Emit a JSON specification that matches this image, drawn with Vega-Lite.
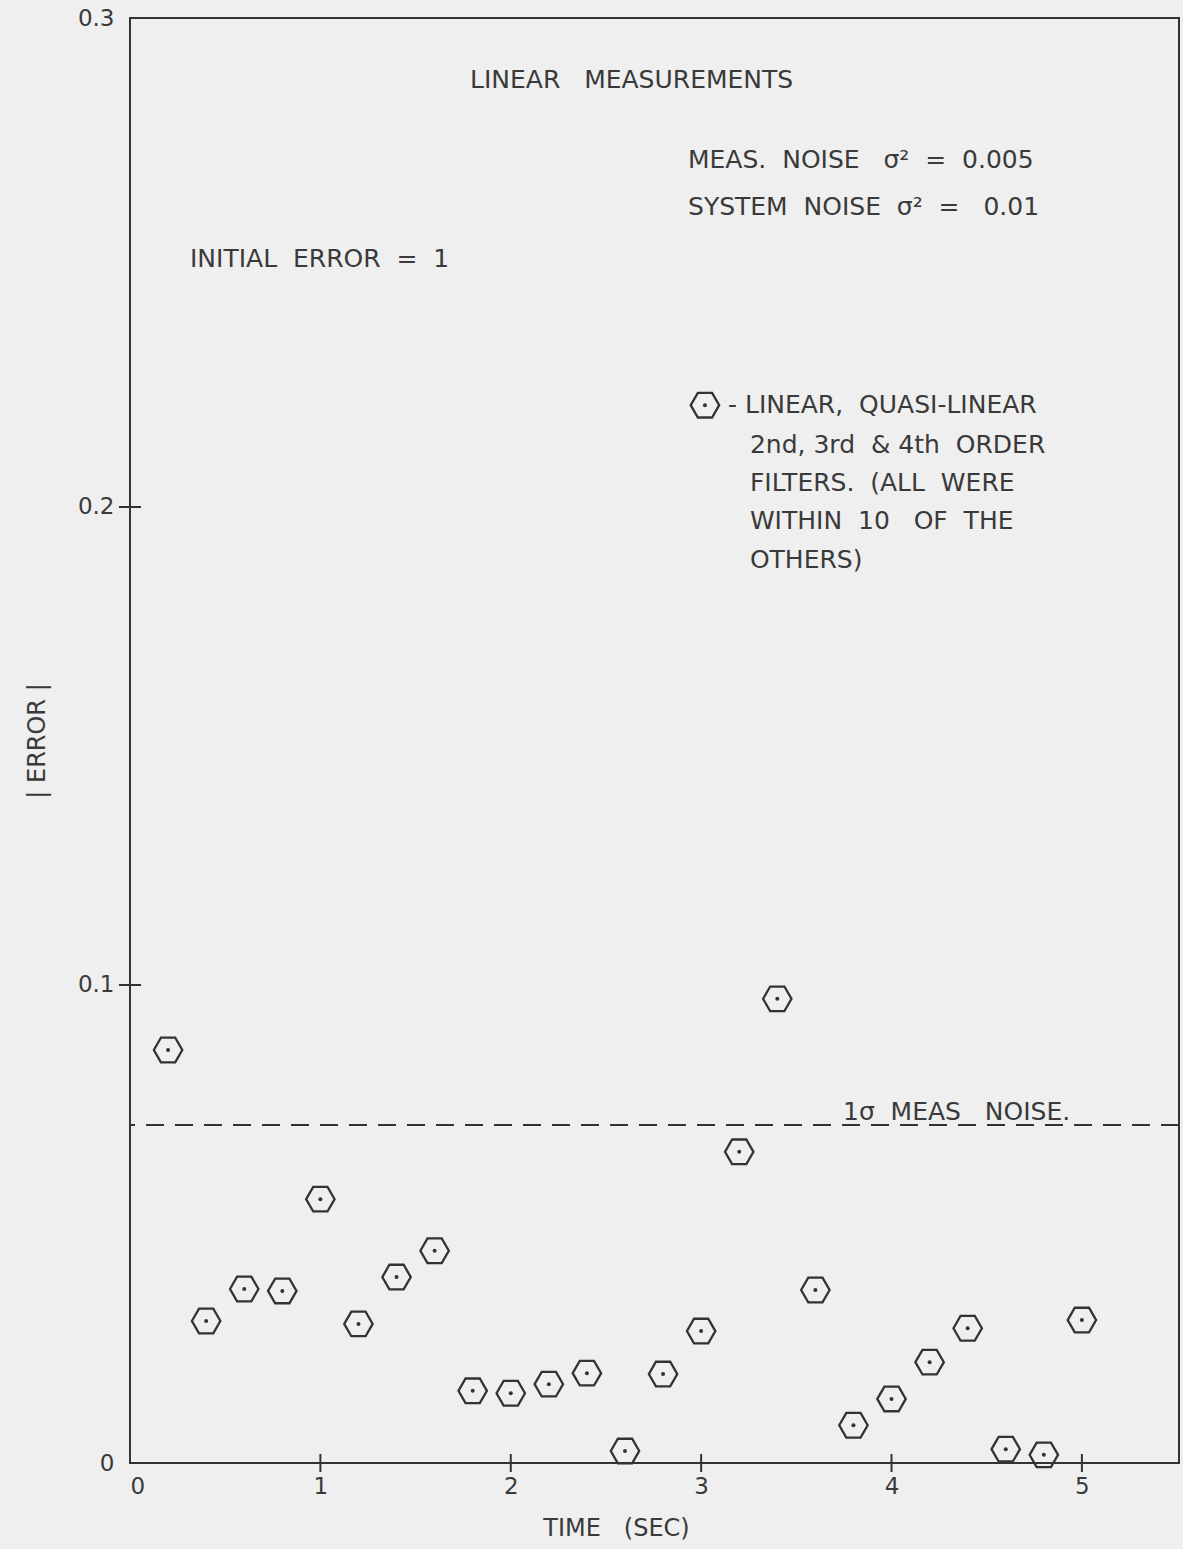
{
  "$schema": "https://vega.github.io/schema/vega-lite/v6.json",
  "width": 1049,
  "height": 1445,
  "autosize": {"type": "none"},
  "padding": {"left": 130, "top": 18, "right": 4, "bottom": 86},
  "background": "#efefef",
  "config": {
    "font": "DejaVu Sans",
    "view": {"stroke": "#333333", "strokeWidth": 2},
    "axis": {"labelColor": "#3a3a3a", "titleColor": "#3a3a3a", "labelFont": "DejaVu Sans", "titleFont": "DejaVu Sans", "titleFontWeight": "normal", "grid": false, "ticks": false, "domain": false}
  },
  "datasets": {
    "errors": [
      {"t": 0.2, "err": 0.0864},
      {"t": 0.4, "err": 0.0297},
      {"t": 0.6, "err": 0.0364},
      {"t": 0.8, "err": 0.0360},
      {"t": 1.0, "err": 0.0552},
      {"t": 1.2, "err": 0.0291},
      {"t": 1.4, "err": 0.0389},
      {"t": 1.6, "err": 0.0444},
      {"t": 1.8, "err": 0.0151},
      {"t": 2.0, "err": 0.0146},
      {"t": 2.2, "err": 0.0165},
      {"t": 2.4, "err": 0.0188},
      {"t": 2.6, "err": 0.0025},
      {"t": 2.8, "err": 0.0186},
      {"t": 3.0, "err": 0.0276},
      {"t": 3.2, "err": 0.0651},
      {"t": 3.4, "err": 0.0971},
      {"t": 3.6, "err": 0.0362},
      {"t": 3.8, "err": 0.0079},
      {"t": 4.0, "err": 0.0134},
      {"t": 4.2, "err": 0.0211},
      {"t": 4.4, "err": 0.0282},
      {"t": 4.6, "err": 0.0029},
      {"t": 4.8, "err": 0.0017},
      {"t": 5.0, "err": 0.0299}
    ],
    "key": [{"t": 3.02, "err": 0.2213}],
    "notes": [
      {"t": 1.786, "err": 0.2893, "label": "LINEAR\u00a0\u00a0\u00a0MEASUREMENTS"},
      {"t": 2.931, "err": 0.2726, "label": "MEAS.\u00a0 NOISE\u00a0\u00a0 σ²\u00a0 =\u00a0 0.005"},
      {"t": 2.931, "err": 0.2628, "label": "SYSTEM\u00a0 NOISE\u00a0 σ²\u00a0 =\u00a0\u00a0 0.01"},
      {"t": 0.315, "err": 0.2518, "label": "INITIAL\u00a0 ERROR\u00a0 =\u00a0 1"},
      {"t": 3.141, "err": 0.2213, "label": "- LINEAR,\u00a0 QUASI-LINEAR"},
      {"t": 3.256, "err": 0.2130, "label": "2nd, 3rd\u00a0 & 4th\u00a0 ORDER"},
      {"t": 3.256, "err": 0.2050, "label": "FILTERS.\u00a0 (ALL\u00a0 WERE"},
      {"t": 3.256, "err": 0.1971, "label": "WITHIN\u00a0 10\u00a0\u00a0 OF\u00a0 THE"},
      {"t": 3.256, "err": 0.1889, "label": "OTHERS)"},
      {"t": 3.745, "err": 0.0734, "label": "1σ\u00a0 MEAS\u00a0\u00a0 NOISE."}
    ],
    "xticks": [{"t": 1}, {"t": 2}, {"t": 3}, {"t": 4}, {"t": 5}],
    "yticks": [{"err": 0.1}, {"err": 0.2}]
  },
  "layer": [
    {
      "data": {"values": [{"noise": 0.0707}]},
      "mark": {"type": "rule", "stroke": "#333333", "strokeWidth": 2, "strokeDash": [18, 11]},
      "encoding": {
        "y": {"field": "noise", "type": "quantitative", "scale": {"domain": [0, 0.3023], "nice": false, "zero": false},
          "axis": {"values": [0, 0.1, 0.2, 0.3023], "labelExpr": "datum.value > 0.25 ? '0.3' : datum.value == 0 ? '0' : format(datum.value, '.1f')", "labelFontSize": 23, "labelPadding": 16, "title": "|\u00a0ERROR\u00a0|", "titleFontSize": 24, "titlePadding": 28}}
      }
    },
    {
      "data": {"name": "errors"},
      "mark": {"type": "point", "shape": "M-1,0L-0.5,-0.866L0.5,-0.866L1,0L0.5,0.866L-0.5,0.866Z", "filled": false, "stroke": "#333333", "strokeWidth": 2.3, "size": 810, "opacity": 1},
      "encoding": {
        "x": {"field": "t", "type": "quantitative", "scale": {"domain": [0, 5.51], "nice": false, "zero": false},
          "axis": {"values": [0, 1, 2, 3, 4, 5], "format": "d", "labelFontSize": 23, "labelPadding": 12, "title": "TIME\u00a0\u00a0 (SEC)", "titleFontSize": 24, "titlePadding": 18, "titleX": 486}},
        "y": {"field": "err", "type": "quantitative"}
      }
    },
    {
      "data": {"name": "errors"},
      "mark": {"type": "point", "shape": "circle", "filled": true, "color": "#333333", "size": 16, "opacity": 1},
      "encoding": {
        "x": {"field": "t", "type": "quantitative"},
        "y": {"field": "err", "type": "quantitative"}
      }
    },
    {
      "data": {"name": "key"},
      "mark": {"type": "point", "shape": "M-1,0L-0.5,-0.866L0.5,-0.866L1,0L0.5,0.866L-0.5,0.866Z", "filled": false, "stroke": "#333333", "strokeWidth": 2.3, "size": 810, "opacity": 1},
      "encoding": {
        "x": {"field": "t", "type": "quantitative"},
        "y": {"field": "err", "type": "quantitative"}
      }
    },
    {
      "data": {"name": "key"},
      "mark": {"type": "point", "shape": "circle", "filled": true, "color": "#333333", "size": 16, "opacity": 1},
      "encoding": {
        "x": {"field": "t", "type": "quantitative"},
        "y": {"field": "err", "type": "quantitative"}
      }
    },
    {
      "data": {"name": "notes"},
      "mark": {"type": "text", "align": "left", "baseline": "middle", "fontSize": 25, "color": "#3a3a3a"},
      "encoding": {
        "x": {"field": "t", "type": "quantitative"},
        "y": {"field": "err", "type": "quantitative"},
        "text": {"field": "label"}
      }
    },
    {
      "data": {"name": "xticks"},
      "mark": {"type": "tick", "orient": "vertical", "size": 18, "thickness": 2, "color": "#333333", "opacity": 1},
      "encoding": {
        "x": {"field": "t", "type": "quantitative"},
        "y": {"datum": 0, "type": "quantitative"}
      }
    },
    {
      "data": {"name": "yticks"},
      "mark": {"type": "tick", "orient": "horizontal", "size": 22, "thickness": 2, "color": "#333333", "opacity": 1},
      "encoding": {
        "y": {"field": "err", "type": "quantitative"},
        "x": {"datum": 0.0, "type": "quantitative"}
      }
    }
  ]
}
